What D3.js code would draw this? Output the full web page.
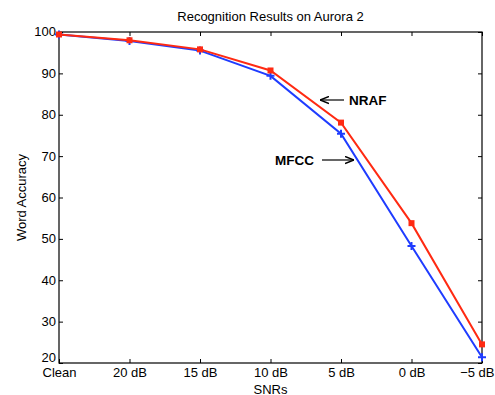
<!DOCTYPE html>
<html><head><meta charset="utf-8">
<script src="https://cdn.jsdelivr.net/npm/d3@7"></script>
<style>body{margin:0;background:#fff;} text{font-family:"Liberation Sans",Arial,Helvetica,sans-serif;}</style>
</head><body>
<svg id="c" width="495" height="395"></svg>
<script>
const categories = ["Clean","20 dB","15 dB","10 dB","5 dB","0 dB","\u22125 dB"];
const nrafValues = [99.4, 98.0, 95.8, 90.7, 78.1, 53.8, 24.5];
const mfccValues = [99.4, 97.8, 95.5, 89.4, 75.4, 48.3, 21.4];
const yTicks = [20,30,40,50,60,70,80,90,100];

const svg = d3.select("#c");
const m = {l:59, r:482, t:32, b:363};
const x = d3.scalePoint().domain(categories).range([m.l, m.r]);
const y = d3.scaleLinear().domain([20,100]).range([m.b, m.t]);
const fs = "13px";

// box
svg.append("rect").attr("x",m.l).attr("y",m.t).attr("width",m.r-m.l).attr("height",m.b-m.t)
  .attr("fill","none").attr("stroke","#000").attr("stroke-width",1.2);

// axes
const xb = svg.append("g").attr("transform",`translate(0,${m.b})`)
  .call(d3.axisBottom(x).tickSizeInner(-4).tickSizeOuter(0).tickPadding(5));
const xt = svg.append("g").attr("transform",`translate(0,${m.t})`)
  .call(d3.axisTop(x).tickSizeInner(-4).tickSizeOuter(0).tickFormat(""));
const yl = svg.append("g").attr("transform",`translate(${m.l},0)`)
  .call(d3.axisLeft(y).tickValues(yTicks).tickSizeInner(-4).tickSizeOuter(0).tickPadding(3));
const yr = svg.append("g").attr("transform",`translate(${m.r},0)`)
  .call(d3.axisRight(y).tickValues(yTicks).tickSizeInner(-4).tickSizeOuter(0).tickFormat(""));
[xb,xt,yl,yr].forEach(g=>{
  g.select(".domain").remove();
  g.selectAll("line").attr("stroke","#000");
  g.selectAll("text").attr("font-size",fs).attr("fill","#000").style("font-family","'Liberation Sans',Arial,sans-serif");
});
xb.selectAll("text").attr("dy","0.71em");
xb.selectAll(".tick").filter((d,i)=>i===categories.length-1).select("text")
  .attr("text-anchor","end").attr("x",494-m.r);
yl.selectAll("text").attr("dy","0.3em");
yl.selectAll(".tick").filter(d=>d===20).select("text").attr("dy","-0.1em");

// lines
const line = d3.line().x((d,i)=>x(categories[i])).y(d=>y(d));
const blue = "#1f3cff", red = "#ff2a12";
svg.append("path").datum(mfccValues).attr("d",line).attr("fill","none").attr("stroke",blue).attr("stroke-width",2);
svg.append("g").selectAll("path").data(mfccValues).join("path")
  .attr("d",(d,i)=>{const cx=x(categories[i]),cy=y(d);return `M${cx-4},${cy}H${cx+4}M${cx},${cy-4}V${cy+4}`;})
  .attr("stroke",blue).attr("stroke-width",2);
svg.append("path").datum(nrafValues).attr("d",line).attr("fill","none").attr("stroke",red).attr("stroke-width",2);
svg.append("g").selectAll("rect").data(nrafValues).join("rect")
  .attr("x",(d,i)=>x(categories[i])-3).attr("y",d=>y(d)-3).attr("width",6).attr("height",6).attr("fill",red);

// labels
svg.append("text").attr("x",(m.l+m.r)/2).attr("y",21).attr("text-anchor","middle").attr("font-size","13px").text("Recognition Results on Aurora 2");
svg.append("text").attr("x",(m.l+m.r)/2).attr("y",393.5).attr("text-anchor","middle").attr("font-size",fs).text("SNRs");
svg.append("text").attr("transform",`translate(26,${(m.t+m.b)/2}) rotate(-90)`).attr("text-anchor","middle").attr("font-size",fs).text("Word Accuracy");

// annotations
const defs = svg.append("defs");
defs.append("marker").attr("id","ah").attr("viewBox","0 0 10 10").attr("refX",10).attr("refY",5)
  .attr("markerWidth",9).attr("markerHeight",9).attr("markerUnits","userSpaceOnUse").attr("orient","auto")
  .append("path").attr("d","M0,1 L10,5 L0,9").attr("fill","none").attr("stroke","#000").attr("stroke-width",1.5);
svg.append("text").attr("x",349).attr("y",105).attr("font-size","13.5px").attr("font-weight","bold").text("NRAF");
svg.append("line").attr("x1",344).attr("y1",100).attr("x2",320).attr("y2",100).attr("stroke","#000").attr("stroke-width",1.2).attr("marker-end","url(#ah)");
svg.append("text").attr("x",275).attr("y",165).attr("font-size","13.5px").attr("font-weight","bold").text("MFCC");
svg.append("line").attr("x1",322).attr("y1",160).attr("x2",354).attr("y2",160).attr("stroke","#000").attr("stroke-width",1.2).attr("marker-end","url(#ah)");
</script>
</body></html>
